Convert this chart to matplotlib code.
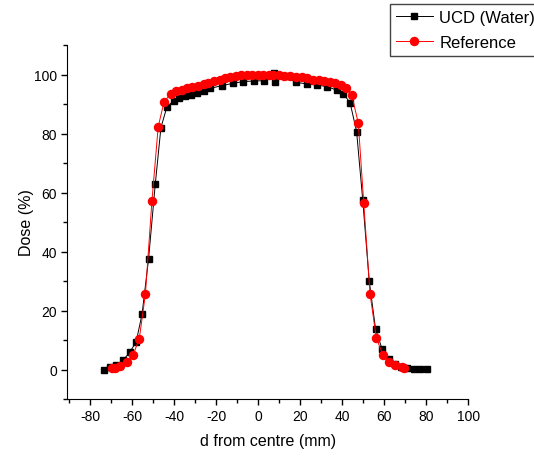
import matplotlib
matplotlib.use('Agg')
import matplotlib.pyplot as plt
from matplotlib.ticker import MultipleLocator

plt.rcParams['font.family'] = ['Liberation Sans', 'DejaVu Sans']
plt.rcParams['axes.unicode_minus'] = False

# UCD (Water) measured profile
ucd_d = [-73.4, -70.5, -67.7, -64.5, -61.2, -58.2, -55.4, -52.3, -49.1, -46.4,
         -43.6, -40.4, -37.6, -34.9, -32.1, -29.0, -26.1, -23.0, -17.4, -12.3,
         -7.2, -2.1, 2.8, 7.4, 7.7, 12.7, 17.7, 23.0, 28.0, 32.9,
         37.6, 40.5, 43.7, 46.8, 49.7, 52.8, 55.8, 58.9, 62.0, 65.0,
         67.8, 70.7, 73.9, 77.0, 80.2]
ucd_dose = [0.0, 0.7, 1.4, 3.1, 5.9, 9.4, 18.7, 37.4, 62.8, 82.0,
            88.9, 91.1, 91.9, 92.6, 93.0, 93.6, 94.4, 95.3, 96.2, 97.0,
            97.6, 97.8, 97.9, 100.6, 97.5, 99.4, 97.4, 96.8, 96.4, 95.9,
            94.6, 93.5, 90.4, 80.6, 57.6, 30.0, 13.8, 7.0, 3.5, 1.7,
            0.8, 0.5, 0.2, 0.2, 0.2]

# reference profile
ref_d = [-69.6, -68.4, -65.8, -62.7, -59.6, -56.7, -53.8, -50.7, -47.7, -44.9,
         -41.7, -39.1, -36.4, -34.0, -31.4, -28.8, -26.1, -23.8, -21.0, -18.5,
         -15.8, -13.4, -10.7, -8.3, -5.5, -2.8, -0.4, 2.4, 5.1, 7.2,
         9.9, 12.4, 15.1, 17.9, 20.7, 23.4, 26.2, 29.0, 31.5, 34.2,
         36.7, 39.4, 41.8, 44.5, 47.6, 50.2, 53.2, 56.2, 59.3, 62.3,
         65.3, 68.3, 69.5]
ref_dose = [0.4, 0.6, 1.2, 2.5, 5.0, 10.5, 25.5, 57.0, 82.3, 90.8,
            93.5, 94.3, 94.9, 95.3, 95.8, 96.1, 96.7, 97.1, 97.7, 98.2,
            98.9, 99.3, 99.5, 99.7, 99.8, 99.9, 100.0, 100.0, 100.0, 99.9,
            99.8, 99.6, 99.5, 99.3, 99.1, 98.8, 98.2, 98.0, 97.8, 97.5,
            97.1, 96.5, 95.4, 93.0, 83.5, 56.4, 25.6, 10.6, 5.0, 2.7,
            1.6, 0.9, 0.6]

fig = plt.figure(figsize=(5.34, 4.6), dpi=100)
ax = fig.add_axes([0.126, 0.1304, 0.751, 0.7696])

ax.plot(ucd_d, ucd_dose, color='black', marker='s', markersize=5, linewidth=0.7,
        label='UCD (Water)')
ax.plot(ref_d, ref_dose, color='red', marker='o', markersize=5.8, linewidth=0.7,
        label='Reference')

ax.set_xlim(-91, 100)
ax.set_ylim(-10, 110)
ax.xaxis.set_major_locator(MultipleLocator(20))
ax.xaxis.set_minor_locator(MultipleLocator(10))
ax.yaxis.set_major_locator(MultipleLocator(20))
ax.yaxis.set_minor_locator(MultipleLocator(10))

ax.spines['top'].set_visible(False)
ax.spines['right'].set_visible(False)
ax.tick_params(which='major', direction='out', length=4, width=1, labelsize=10)
ax.tick_params(which='minor', direction='out', length=3, width=1)

ax.set_xlabel('d from centre (mm)', fontsize=11.5, labelpad=7)
ax.set_ylabel('Dose (%)', fontsize=11.5, labelpad=0)

# legend box sits in the top right corner, running off the edge
fig.legend(loc='upper left', bbox_to_anchor=(390 / 534, 1 - 5 / 460),
           borderaxespad=0, fontsize=12, fancybox=False, edgecolor='#444444',
           framealpha=1, handlelength=2.2, handletextpad=0.4, labelspacing=0.6,
           borderpad=0.35)

plt.savefig('out.png', dpi=100)
